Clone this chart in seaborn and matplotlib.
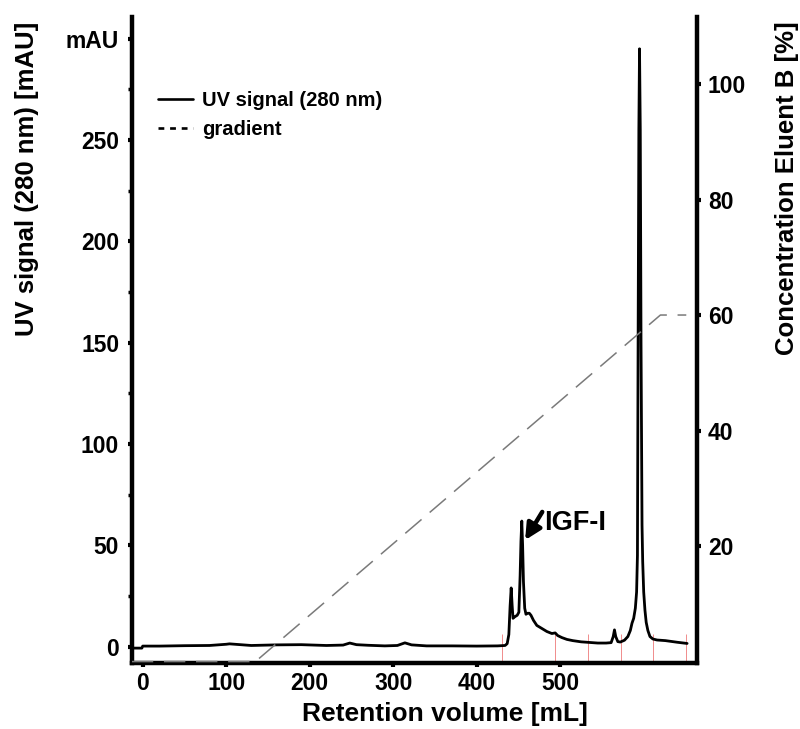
import numpy as np
import pandas as pd
import matplotlib
matplotlib.use("Agg")
import matplotlib.pyplot as plt
from matplotlib.lines import Line2D
import seaborn as sns

# ---------------- data ----------------
uv_volume = [-13, -1, 0, 20, 50, 80, 100, 104, 130, 160, 190, 220, 240, 248, 256,
             270, 290, 305, 314, 322, 340, 370, 400, 425, 434, 436.5, 438.5, 440,
             441.3, 442.5, 443.5, 444.8, 446.5, 448.5, 450.5, 452, 453, 454, 455,
             456, 457.5, 459, 461, 463, 465, 468, 472, 478, 484, 490, 494, 497,
             502, 508, 515, 525, 535, 545, 555, 561, 563.5, 565, 566.5, 569, 572,
             577, 581, 584, 586, 588, 590, 591.5, 592.5, 593.3, 594.2, 595.0,
             595.9, 596.8, 598.0, 598.8, 600, 601.5, 603, 605, 607.5, 611, 616,
             626, 640, 652]
uv_signal = [-0.7, -0.7, 0.3, 0.3, 0.5, 0.6, 1.2, 1.4, 0.6, 0.9, 1.0, 0.6, 0.8, 1.8, 1.0,
             0.7, 0.4, 0.6, 1.9, 0.9, 0.4, 0.4, 0.3, 0.4, 0.6, 1.5, 6, 20,
             29, 20, 14, 14.5, 15, 15.5, 17, 35, 52, 62, 50,
             32, 19, 16, 16.5, 16.5, 15.5, 13, 10.5, 9, 7.5, 6.5, 6.8, 5.5,
             4.5, 3.6, 3.0, 2.4, 2.1, 1.8, 1.8, 2.0, 5, 8.3, 5, 2.5, 2.3,
             3.2, 5, 8, 11.6, 14, 19, 27, 45, 150, 255, 295,
             255, 150, 60, 42, 27, 18, 12, 8, 5, 3.8, 3.3,
             3.0, 2.2, 1.6]

gradient_volume = [-13, 135, 620, 651]
gradient_percent = [0, 0, 60, 60]

fraction_volumes = [430, 494, 533.5, 573, 611.5, 651]

left_ticks = [0, 50, 100, 150, 200, 250, 300]
left_ticklabels = ["0", "50", "100", "150", "200", "250", "mAU"]
left_minor = [25, 75, 125, 175, 225, 275]
x_ticks = [0, 100, 200, 300, 400, 500]
right_ticks = [20, 40, 60, 80, 100]

# ---------------- style ----------------
sns.set_theme(style="white", rc={"text.color": "black", "axes.labelcolor": "black",
                                 "xtick.color": "black", "ytick.color": "black",
                                 "axes.edgecolor": "black"})
plt.rcParams["font.family"] = ["Liberation Sans", "DejaVu Sans"]
plt.rcParams["font.weight"] = "bold"
plt.rcParams["axes.labelweight"] = "bold"

fig = plt.figure(figsize=(8, 7.29), dpi=100)
ax = fig.add_axes([0.1646, 0.0901, 0.7063, 0.8866])
ax2 = ax.twinx()

uv_df = pd.DataFrame({"volume": uv_volume, "signal": uv_signal})
gr_df = pd.DataFrame({"volume": gradient_volume, "percent": gradient_percent})

# fraction markers
ax.vlines(fraction_volumes, -9, 6.5, colors="#f08c8c", lw=0.7, zorder=1)

sns.lineplot(data=uv_df, x="volume", y="signal", ax=ax, color="black",
             lw=2.0, estimator=None, sort=False, legend=False, zorder=3)
sns.lineplot(data=gr_df, x="volume", y="percent", ax=ax2, color="#7a7a7a",
             lw=1.1, estimator=None, sort=False, legend=False, zorder=2)
ax2.lines[-1].set_dashes((14, 7))

ax.set_xlim(-13.2, 663.5)
ax.set_ylim(-8.2, 310.7)
ax2.set_ylim(-0.3, 111.6)

ax.set_xticks(x_ticks)
ax.set_xticklabels([str(v) for v in x_ticks])
ax.set_yticks(left_ticks)
ax.set_yticklabels(left_ticklabels)
ax.set_yticks(left_minor, minor=True)
ax2.set_yticks(right_ticks)
ax2.set_yticklabels([str(v) for v in right_ticks])

for a in (ax, ax2):
    a.spines["top"].set_visible(False)
    a.grid(False)
    a.set_facecolor("none")
ax2.spines["left"].set_visible(False)
ax2.spines["bottom"].set_visible(False)
ax.spines["right"].set_visible(False)
for s in ("left", "bottom"):
    ax.spines[s].set_linewidth(3.2)
    ax.spines[s].set_color("black")
ax2.spines["right"].set_linewidth(3.2)
ax2.spines["right"].set_color("black")

ax.tick_params(axis="both", which="major", direction="out", length=3, width=3,
               color="black", labelcolor="black", labelsize=16.5,
               bottom=True, left=True)
ax.tick_params(axis="y", which="major", pad=6)
ax.tick_params(axis="x", which="major", pad=3.5)
ax.tick_params(axis="y", which="minor", direction="out", length=3, width=2.5,
               color="black", left=True)
ax2.tick_params(axis="y", which="major", direction="out", length=3, width=3,
                color="black", labelcolor="black", labelsize=16.5, pad=5,
                right=True)
for lab in ax.get_xticklabels() + ax.get_yticklabels() + ax2.get_yticklabels():
    lab.set_fontweight("bold")

ax.set_xlabel("Retention volume [mL]", fontsize=19, fontweight="bold", color="black")
ax.xaxis.set_label_coords(0.5545, -0.079)
ax.xaxis.label.set_va("center")
ax.set_ylabel("UV signal (280 nm) [mAU]", fontsize=18.5, fontweight="bold", color="black")
ax.yaxis.set_label_coords(-0.185, 0.749)
ax.yaxis.label.set_va("center")
ax2.set_ylabel("Concentration Eluent B [%]", fontsize=18.5, fontweight="bold",
               rotation=90, color="black")
ax2.yaxis.set_label_coords(1.160, 0.735)
ax2.yaxis.label.set_va("center")

# annotation
ax.annotate("", xy=(458.0, 52.6), xytext=(478.5, 66.5),
            arrowprops=dict(arrowstyle="-|>", lw=3.2, color="black",
                            mutation_scale=24, shrinkA=0, shrinkB=0),
            zorder=5)
ax.text(481.0, 61.0, "IGF-I", fontsize=19.5, fontweight="bold", ha="left",
        va="center", color="black", zorder=5)

handles = [Line2D([], [], color="black", lw=1.9),
           Line2D([], [], color="black", lw=1.9, dashes=(2.2, 2.2))]
leg = ax2.legend(handles, ["UV signal (280 nm)", "gradient"], loc="upper left",
                 bbox_to_anchor=(0.0465, 0.886), frameon=False, borderpad=0,
                 borderaxespad=0, handlelength=1.74, handletextpad=0.45,
                 labelspacing=0.5, prop={"size": 14.5, "weight": "bold"})
for t in leg.get_texts():
    t.set_color("black")

fig.savefig("out.png", dpi=100)
